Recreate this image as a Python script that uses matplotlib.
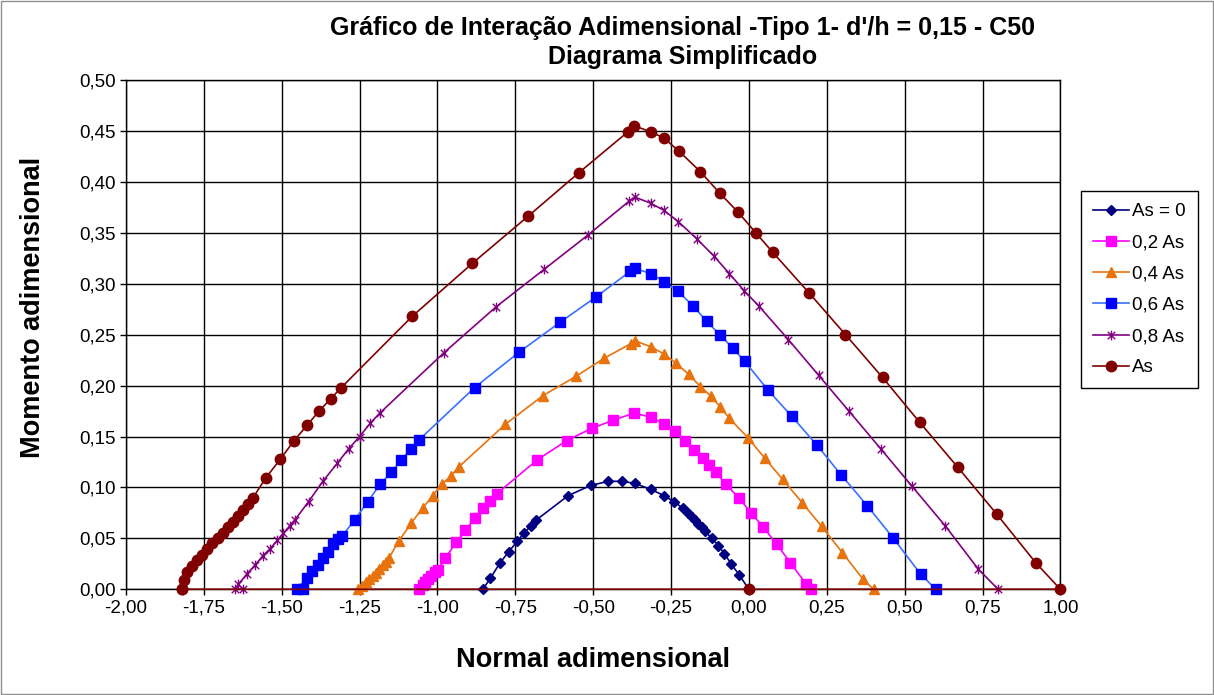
import numpy as np
import matplotlib
matplotlib.use("Agg")
import matplotlib.pyplot as plt
from matplotlib.path import Path
from matplotlib.patches import Rectangle
from matplotlib.ticker import FuncFormatter

plt.rcParams['font.family'] = ['Liberation Sans', 'DejaVu Sans']

# As = 0
n_0 = [-0.854, -0.830, -0.799, -0.771, -0.744, -0.723, -0.701, -0.683, -0.580, -0.508,
       -0.451, -0.408, -0.366, -0.315, -0.272, -0.242, -0.213, -0.197, -0.184, -0.172,
       -0.162, -0.152, -0.141, -0.119, -0.098, -0.079, -0.057, -0.031, 0.0]
m_0 = [0, 0.011, 0.026, 0.037, 0.047, 0.055, 0.062, 0.068, 0.092, 0.102,
       0.106, 0.106, 0.104, 0.098, 0.092, 0.086, 0.080, 0.075, 0.071, 0.068,
       0.064, 0.061, 0.057, 0.050, 0.043, 0.035, 0.025, 0.014, 0]

# 0,2 As
n_02 = [-1.058, -1.048, -1.039, -1.031, -1.020, -1.009, -0.998, -0.975, -0.939, -0.910,
        -0.880, -0.855, -0.830, -0.809, -0.680, -0.585, -0.505, -0.436, -0.369, -0.315,
        -0.272, -0.238, -0.206, -0.176, -0.149, -0.127, -0.106, -0.074, -0.033, 0.007,
        0.046, 0.090, 0.133, 0.184, 0.20]
m_02 = [0, 0.004, 0.007, 0.010, 0.013, 0.017, 0.019, 0.031, 0.046, 0.058,
        0.070, 0.080, 0.087, 0.094, 0.127, 0.146, 0.158, 0.166, 0.173, 0.169,
        0.162, 0.155, 0.146, 0.137, 0.129, 0.122, 0.115, 0.103, 0.090, 0.075,
        0.061, 0.044, 0.026, 0.005, 0]

# 0,4 As
n_04 = [-1.254, -1.241, -1.230, -1.219, -1.208, -1.198, -1.187, -1.176, -1.166, -1.155,
        -1.125, -1.084, -1.047, -1.015, -0.986, -0.958, -0.932, -0.782, -0.662, -0.556,
        -0.464, -0.380, -0.366, -0.314, -0.273, -0.234, -0.193, -0.156, -0.123, -0.092,
        -0.063, -0.004, 0.050, 0.108, 0.171, 0.233, 0.300, 0.366, 0.40]
m_04 = [0, 0.003, 0.007, 0.010, 0.013, 0.016, 0.020, 0.024, 0.027, 0.031,
        0.047, 0.065, 0.080, 0.092, 0.103, 0.111, 0.120, 0.162, 0.190, 0.209,
        0.227, 0.241, 0.244, 0.238, 0.231, 0.222, 0.211, 0.199, 0.190, 0.179,
        0.168, 0.149, 0.129, 0.108, 0.085, 0.062, 0.036, 0.010, 0]

# 0,6 As
n_06 = [-1.431, -1.452, -1.420, -1.402, -1.382, -1.366, -1.350, -1.334, -1.318, -1.307,
        -1.266, -1.224, -1.184, -1.148, -1.116, -1.085, -1.058, -0.881, -0.737, -0.607,
        -0.491, -0.382, -0.367, -0.314, -0.273, -0.229, -0.179, -0.135, -0.094, -0.052,
        -0.014, 0.060, 0.137, 0.217, 0.297, 0.380, 0.464, 0.551, 0.60]
m_06 = [0, 0, 0.011, 0.018, 0.024, 0.031, 0.037, 0.044, 0.049, 0.052,
        0.068, 0.086, 0.103, 0.115, 0.127, 0.138, 0.147, 0.198, 0.233, 0.262,
        0.287, 0.312, 0.315, 0.310, 0.302, 0.293, 0.278, 0.263, 0.250, 0.237,
        0.224, 0.196, 0.170, 0.142, 0.112, 0.082, 0.050, 0.015, 0]

# 0,8 As
n_08 = [-1.623, -1.649, -1.639, -1.612, -1.585, -1.560, -1.537, -1.514, -1.495, -1.475,
        -1.458, -1.414, -1.368, -1.321, -1.285, -1.250, -1.216, -1.185, -0.980, -0.813,
        -0.658, -0.516, -0.385, -0.366, -0.315, -0.273, -0.227, -0.167, -0.112, -0.063,
        -0.015, 0.032, 0.127, 0.224, 0.321, 0.423, 0.524, 0.631, 0.736, 0.80]
m_08 = [0, 0, 0.005, 0.015, 0.024, 0.033, 0.040, 0.048, 0.055, 0.062,
        0.068, 0.086, 0.106, 0.124, 0.138, 0.150, 0.163, 0.173, 0.232, 0.277,
        0.314, 0.348, 0.381, 0.385, 0.379, 0.372, 0.361, 0.344, 0.327, 0.310,
        0.293, 0.278, 0.245, 0.210, 0.175, 0.138, 0.101, 0.062, 0.020, 0]

# As
n_as = [-1.819, -1.813, -1.803, -1.788, -1.771, -1.755, -1.739, -1.723, -1.706, -1.690,
        -1.674, -1.658, -1.640, -1.624, -1.608, -1.592, -1.552, -1.504, -1.460, -1.419,
        -1.380, -1.343, -1.309, -1.081, -0.888, -0.710, -0.546, -0.389, -0.368, -0.314,
        -0.273, -0.224, -0.156, -0.094, -0.034, 0.022, 0.076, 0.193, 0.310, 0.429,
        0.548, 0.670, 0.795, 0.921, 1.0, 0.0, -1.819]
m_as = [0, 0.009, 0.017, 0.023, 0.029, 0.034, 0.040, 0.045, 0.050, 0.055,
        0.061, 0.066, 0.072, 0.078, 0.084, 0.090, 0.109, 0.128, 0.146, 0.161,
        0.175, 0.187, 0.198, 0.268, 0.320, 0.366, 0.409, 0.449, 0.455, 0.449,
        0.443, 0.430, 0.410, 0.389, 0.370, 0.350, 0.331, 0.291, 0.250, 0.208,
        0.164, 0.120, 0.074, 0.026, 0, 0, 0]

labels = ['As = 0', '0,2 As', '0,4 As', '0,6 As', '0,8 As', 'As']

# excel style star marker (x with a vertical bar)
star = Path([(-1, -1), (1, 1), (-1, 1), (1, -1), (0, -1.3), (0, 1.3)],
            [Path.MOVETO, Path.LINETO, Path.MOVETO, Path.LINETO, Path.MOVETO, Path.LINETO])

series = [
    (n_0, m_0, '#000080', '#000080', 'D', 5.5),
    (n_02, m_02, '#FF00FF', '#FF00FF', 's', 6.5),
    (n_04, m_04, '#E8720C', '#E8720C', '^', 7.5),
    (n_06, m_06, '#3A6FFF', '#0000FF', 's', 7),
    (n_08, m_08, '#800080', '#800080', star, 7),
    (n_as, m_as, '#800000', '#800000', 'o', 7.5),
]

fig = plt.figure(figsize=(12.14, 6.95), dpi=100)
ax = fig.add_axes([126 / 1214, 1 - 589.3 / 695, (1060.4 - 126) / 1214, (589.3 - 80) / 695])

for (n, m, lc, mc, mk, ms), lab in zip(series, labels):
    ax.plot(n, m, color=lc, lw=1.2, marker=mk, markersize=ms,
            markerfacecolor=mc, markeredgecolor=mc, markeredgewidth=1.0, label=lab,
            clip_on=False, zorder=3)

ax.set_xlim(-2.0, 1.0)
ax.set_ylim(0.0, 0.5)
ax.set_xticks(np.arange(-2.0, 1.001, 0.25))
ax.set_yticks(np.arange(0.0, 0.501, 0.05))
fmt = FuncFormatter(lambda v, p: f"{v:.2f}".replace('.', ',').replace('-0,00', '0,00'))
ax.xaxis.set_major_formatter(fmt)
ax.yaxis.set_major_formatter(fmt)
ax.tick_params(direction='out', length=4, width=1, labelsize=13.5, colors='black')
ax.grid(True, color='black', lw=1)
ax.set_axisbelow(True)
for s in ax.spines.values():
    s.set_color('black')
    s.set_linewidth(1)
    s.set_zorder(2)

fig.text(683 / 1214, 1 - 28 / 695, "Gráfico de Interação Adimensional -Tipo 1- d'/h = 0,15 - C50",
         ha='center', va='center', fontsize=18, fontweight='bold')
fig.text(683 / 1214, 1 - 57 / 695, "Diagrama Simplificado",
         ha='center', va='center', fontsize=18, fontweight='bold')
fig.text(593 / 1214, 1 - 660 / 695, "Normal adimensional",
         ha='center', va='center', fontsize=19.5, fontweight='bold')
fig.text(33 / 1214, 1 - 307 / 695, "Momento adimensional", rotation=90,
         ha='center', va='center', fontsize=19.5, fontweight='bold')

leg = fig.legend(loc='upper left', bbox_to_anchor=(1080.7 / 1214, 1 - 191 / 695),
                 bbox_transform=fig.transFigure, borderaxespad=0, fontsize=13.5,
                 handlelength=1.9, handletextpad=0.2, labelspacing=0.75,
                 fancybox=False, framealpha=1, edgecolor='black', borderpad=0.65)
leg.get_frame().set_linewidth(1)

fig.patches.append(Rectangle((0.001, 0.001), 0.998, 0.997, transform=fig.transFigure,
                             fill=False, edgecolor='#909090', lw=1))

fig.savefig('out.png', dpi=100)
